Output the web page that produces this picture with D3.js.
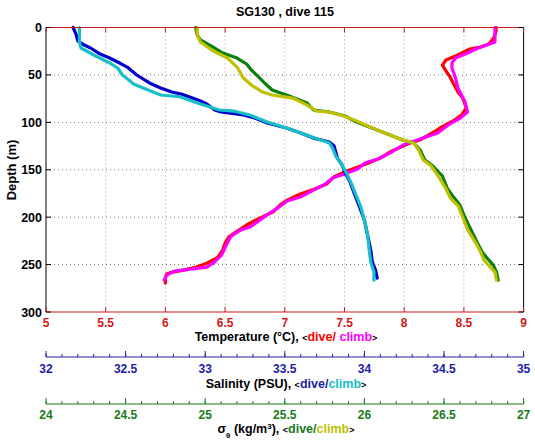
<!DOCTYPE html>
<html><head><meta charset="utf-8">
<script src="https://cdn.jsdelivr.net/npm/d3@7"></script>
<style>
body{margin:0;background:#fff;}
text{font-family:"Liberation Sans",Arial,Helvetica,sans-serif;font-weight:bold;}
</style></head>
<body><svg id="c" width="535" height="442"></svg>
<script>
// ---- data: [depth (m), value] ----
const tempDive = [[0,8.77],[3.7,8.77],[11.1,8.75],[17.4,8.71],[20.6,8.64],[22.7,8.55],[29.0,8.45],[34.3,8.35],[39.6,8.32],[45.9,8.35],[51.2,8.38],[58.5,8.41],[68.0,8.45],[74.4,8.49],[84.9,8.52],[92.3,8.48],[98.6,8.41],[106.0,8.30],[112.3,8.22],[118.7,8.13],[121.8,8.05],[126.1,7.97],[131.3,7.88],[137.7,7.80],[143.0,7.70],[148.2,7.59],[152.4,7.50],[157.7,7.41],[165.1,7.35],[170.4,7.25],[175.6,7.13],[182.0,7.02],[187.2,6.96],[194.6,6.90],[201.0,6.79],[208.3,6.68],[215.7,6.59],[221.0,6.53],[227.3,6.50],[234.7,6.48],[242.1,6.44],[245.2,6.40],[249.5,6.33],[252.6,6.26],[255.8,6.15],[257.9,6.06],[260.0,6.01],[264.3,6.00],[269.5,6.00]];
const tempClimb = [[0,8.76],[7.9,8.76],[15.3,8.76],[21.6,8.62],[26.9,8.53],[32.2,8.43],[37.4,8.40],[42.7,8.40],[53.3,8.43],[63.8,8.45],[78.6,8.51],[89.1,8.53],[95.5,8.47],[101.8,8.38],[111.3,8.28],[118.7,8.11],[123.9,7.99],[132.4,7.88],[138.7,7.78],[143.0,7.67],[149.3,7.61],[154.5,7.50],[158.8,7.40],[165.1,7.34],[171.4,7.24],[178.8,7.13],[183.0,7.02],[190.4,6.94],[196.7,6.86],[203.1,6.79],[210.4,6.71],[213.6,6.63],[219.9,6.55],[229.4,6.51],[240.0,6.47],[247.4,6.41],[252.6,6.35],[254.8,6.21],[256.9,6.08],[261.1,6.01],[266.4,5.99]];
const salDive = [[0,32.17],[3.7,32.18],[7.9,32.19],[14.2,32.20],[18.5,32.24],[21.6,32.28],[28.0,32.34],[32.2,32.40],[36.4,32.45],[41.7,32.51],[50.1,32.57],[58.5,32.65],[63.8,32.72],[68.0,32.79],[70.2,32.85],[74.4,32.92],[77.5,32.97],[80.7,33.01],[87.0,33.06],[89.1,33.10],[92.3,33.24],[95.5,33.31],[100.7,33.39],[106.0,33.51],[111.3,33.60],[116.6,33.68],[120.8,33.78],[125.0,33.81],[131.3,33.82],[137.7,33.83],[145.0,33.86],[153.5,33.88],[163.0,33.91],[176.7,33.94],[189.4,33.97],[203.1,34.00],[218.9,34.02],[234.7,34.04],[247.4,34.05],[255.8,34.07],[264.3,34.08]];
const salClimb = [[0,32.21],[7.9,32.21],[15.3,32.21],[21.6,32.22],[29.0,32.30],[37.4,32.40],[42.7,32.45],[50.1,32.48],[55.4,32.52],[59.6,32.55],[63.8,32.61],[71.2,32.72],[73.0,32.84],[80.7,32.97],[87.0,33.09],[88.1,33.18],[92.3,33.28],[99.7,33.39],[106.0,33.51],[111.3,33.60],[116.6,33.69],[121.8,33.78],[127.1,33.80],[135.6,33.82],[145.0,33.86],[154.5,33.89],[165.1,33.92],[177.8,33.95],[190.4,33.98],[203.1,34.00],[218.9,34.02],[234.7,34.03],[247.4,34.04],[257.9,34.06],[266.4,34.06]];
const sigDive = [[0,24.94],[7.9,24.95],[13.2,24.97],[20.6,25.05],[26.9,25.11],[32.2,25.20],[38.5,25.26],[44.8,25.29],[51.2,25.33],[59.6,25.38],[65.9,25.42],[71.2,25.51],[74.4,25.56],[79.6,25.64],[87.0,25.68],[89.1,25.78],[93.4,25.88],[99.7,25.95],[108.1,26.08],[113.4,26.16],[118.7,26.24],[121.8,26.31],[129.2,26.35],[139.8,26.38],[146.1,26.43],[156.6,26.49],[169.3,26.52],[178.8,26.56],[187.2,26.60],[199.9,26.63],[213.6,26.67],[227.3,26.71],[236.8,26.74],[243.1,26.77],[250.5,26.81],[257.9,26.83],[266.4,26.84]];
const sigClimb = [[0,24.95],[7.9,24.95],[15.3,24.97],[24.8,25.05],[32.2,25.14],[41.7,25.20],[53.3,25.24],[60.7,25.29],[68.0,25.36],[71.2,25.42],[74.4,25.55],[81.8,25.64],[88.1,25.70],[89.1,25.78],[93.4,25.87],[98.6,25.95],[108.1,26.08],[113.4,26.16],[118.7,26.24],[121.8,26.31],[129.2,26.34],[139.8,26.37],[146.1,26.42],[155.6,26.46],[169.3,26.51],[179.9,26.54],[188.3,26.59],[201.0,26.62],[213.6,26.65],[227.3,26.70],[236.8,26.73],[245.2,26.75],[252.6,26.79],[257.9,26.82],[266.4,26.83]];

const depthTicks = [0,50,100,150,200,250,300];
const tempTicks = [5,5.5,6,6.5,7,7.5,8,8.5,9];
const salTicks = [32,32.5,33,33.5,34,34.5,35];
const sigTicks = [24,24.5,25,25.5,26,26.5,27];

const C = {red:"#ff0000", mag:"#ff00ff", blue:"#0000cc", cyan:"#17c0c8", green:"#0a7f0a", yel:"#c0c000",
           tAx:"#d01818", sAx:"#1c1caa", gAx:"#1a7a1a"};

const L=46, R=523.6, T=27.5, B=312;
const svg = d3.select("#c");
const y = d3.scaleLinear().domain([0,300]).range([T,B]);
const xT = d3.scaleLinear().domain([5,9]).range([L,R]);
const xS = d3.scaleLinear().domain([32,35]).range([L,R]);
const xG = d3.scaleLinear().domain([24,27]).range([L,R]);

// grid
const g = svg.append("g");
g.selectAll("line.vg").data(tempTicks.slice(1,-1)).join("line")
 .attr("x1",d=>xT(d)).attr("x2",d=>xT(d)).attr("y1",T).attr("y2",B)
 .attr("stroke","#c89090").attr("stroke-width",1).attr("stroke-dasharray","1,3");
g.selectAll("line.hg").data(depthTicks.slice(1,-1)).join("line")
 .attr("x1",L).attr("x2",R).attr("y1",d=>y(d)).attr("y2",d=>y(d))
 .attr("stroke","#777").attr("stroke-width",1).attr("stroke-dasharray","1,3");

// profiles
function prof(data, sc, col){
  svg.append("path").datum(data)
   .attr("d", d3.line().x(d=>sc(d[1])).y(d=>y(d[0])))
   .attr("fill","none").attr("stroke",col).attr("stroke-width",3.2)
   .attr("stroke-linejoin","round").attr("stroke-linecap","round");
}
prof(tempDive,xT,C.red); prof(tempClimb,xT,C.mag);
prof(salDive,xS,C.blue); prof(salClimb,xS,C.cyan);
prof(sigDive,xG,C.green); prof(sigClimb,xG,C.yel);

// frame
svg.append("line").attr("x1",L).attr("x2",L).attr("y1",T).attr("y2",B).attr("stroke","#000");
svg.append("line").attr("x1",R).attr("x2",R).attr("y1",T).attr("y2",B).attr("stroke","#000");
svg.append("line").attr("x1",L).attr("x2",R).attr("y1",T).attr("y2",T).attr("stroke",C.tAx);
svg.append("line").attr("x1",L).attr("x2",R).attr("y1",B).attr("y2",B).attr("stroke",C.tAx);

// temperature ticks top & bottom
svg.selectAll("line.tt").data(tempTicks).join("line")
 .attr("x1",d=>xT(d)).attr("x2",d=>xT(d)).attr("y1",T).attr("y2",T+5).attr("stroke",C.tAx);
svg.selectAll("line.tb").data(tempTicks).join("line")
 .attr("x1",d=>xT(d)).attr("x2",d=>xT(d)).attr("y1",B).attr("y2",B-5).attr("stroke",C.tAx);
// depth ticks left & right
svg.selectAll("line.dl").data(depthTicks).join("line")
 .attr("x1",L).attr("x2",L+5).attr("y1",d=>y(d)).attr("y2",d=>y(d)).attr("stroke","#000");
svg.selectAll("line.dr").data(depthTicks).join("line")
 .attr("x1",R).attr("x2",R-5).attr("y1",d=>y(d)).attr("y2",d=>y(d)).attr("stroke","#000");

// depth labels
svg.selectAll("text.dl").data(depthTicks).join("text")
 .attr("x",L-4).attr("y",d=>y(d)+4.5).attr("text-anchor","end").attr("font-size",12.5)
 .attr("fill","#000").text(d=>d);
// temp labels
svg.selectAll("text.tl").data(tempTicks).join("text")
 .attr("x",d=>xT(d)).attr("y",326.5).attr("text-anchor","middle").attr("font-size",12)
 .attr("fill",C.tAx).text(d=>d);

// salinity axis
const sY=357;
svg.append("line").attr("x1",L).attr("x2",R).attr("y1",sY).attr("y2",sY).attr("stroke",C.sAx);
const salMinor = d3.range(0,31).map(i=>32+i*0.1);
svg.selectAll("line.sm").data(salMinor).join("line")
 .attr("x1",d=>xS(d)).attr("x2",d=>xS(d)).attr("y1",sY).attr("y2",sY-3).attr("stroke",C.sAx);
svg.selectAll("line.sM").data(salTicks).join("line")
 .attr("x1",d=>xS(d)).attr("x2",d=>xS(d)).attr("y1",sY).attr("y2",sY-6).attr("stroke",C.sAx);
svg.selectAll("text.sl").data(salTicks).join("text")
 .attr("x",d=>xS(d)).attr("y",372.5).attr("text-anchor","middle").attr("font-size",12)
 .attr("fill",C.sAx).text(d=>d);

// sigma axis
const gY=404;
svg.append("line").attr("x1",L).attr("x2",R).attr("y1",gY).attr("y2",gY).attr("stroke",C.gAx);
const sigMinor = d3.range(0,31).map(i=>24+i*0.1);
svg.selectAll("line.gm").data(sigMinor).join("line")
 .attr("x1",d=>xG(d)).attr("x2",d=>xG(d)).attr("y1",gY).attr("y2",gY-3).attr("stroke",C.gAx);
svg.selectAll("line.gM").data(sigTicks).join("line")
 .attr("x1",d=>xG(d)).attr("x2",d=>xG(d)).attr("y1",gY).attr("y2",gY-6).attr("stroke",C.gAx);
svg.selectAll("text.gl").data(sigTicks).join("text")
 .attr("x",d=>xG(d)).attr("y",419).attr("text-anchor","middle").attr("font-size",12)
 .attr("fill",C.gAx).text(d=>d);

// title
svg.append("text").attr("x",285).attr("y",16).attr("text-anchor","middle").attr("font-size",12.5)
 .attr("fill","#000").text("SG130 , dive 115");
// y label
svg.append("text").attr("transform","translate(16,170) rotate(-90)").attr("text-anchor","middle")
 .attr("font-size",13).attr("fill","#000").text("Depth (m)");

// axis titles
function title(yy, parts){
  const t = svg.append("text").attr("x",286).attr("y",yy).attr("text-anchor","middle").attr("font-size",12.5);
  parts.forEach(p=>{
    const s=t.append("tspan").attr("fill",p[1]).text(p[0]);
    if(p[2]) s.attr("font-size",p[2]);
    if(p[3]) s.attr("baseline-shift",p[3]);
  });
}
title(341,[["Temperature (°C), ","#000"],["<","#000",9],["dive/ ",C.red],["climb",C.mag],[">","#000",9]]);
title(388,[["Salinity (PSU), ","#000"],["<","#000",9],["dive/",C.sAx],["climb",C.cyan],[">","#000",9]]);
title(433,[["σ","#000"],["θ","#000",8,"sub"],[" (kg/m","#000"],["3","#000",8,"super"],["), ","#000"],["<","#000",9],["dive/",C.gAx],["climb",C.yel],[">","#000",9]]);
</script></body></html>
